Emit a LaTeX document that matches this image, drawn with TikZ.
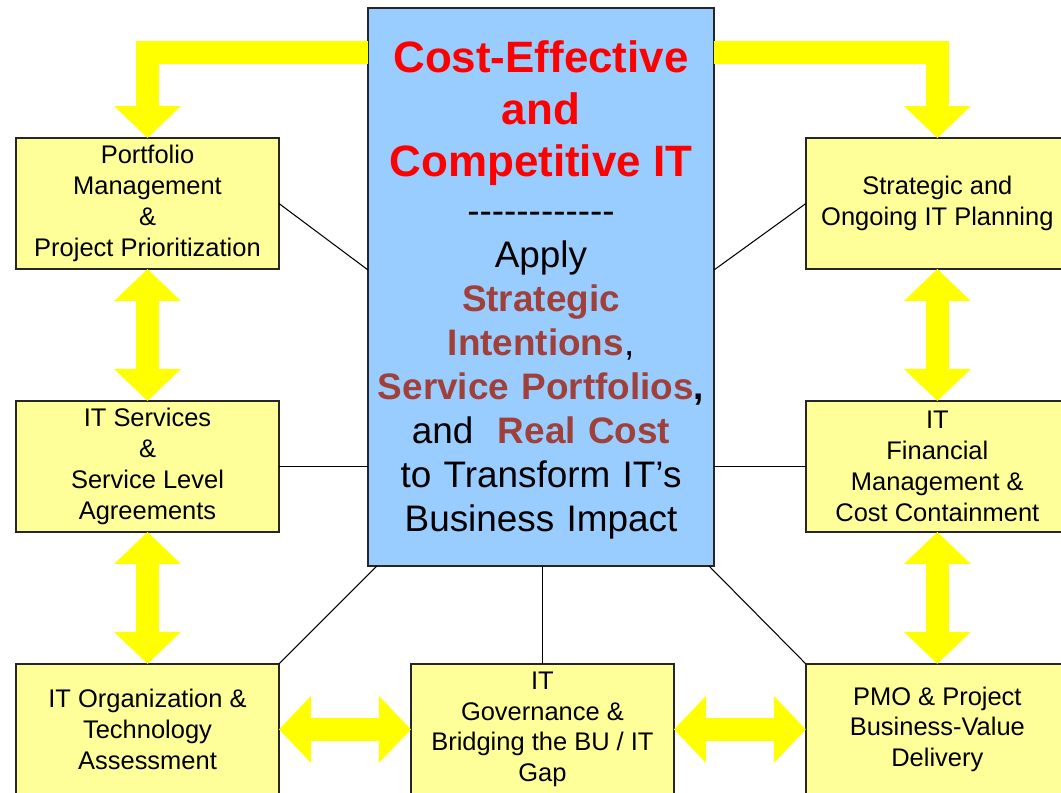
\documentclass[tikz,border=0pt]{standalone}
\usepackage{fontspec}
\setmainfont{Liberation Sans}
\usetikzlibrary{positioning,arrows.meta}

\definecolor{boxyellow}{HTML}{FFFF99}
\definecolor{arrowyellow}{HTML}{FFFF00}
\definecolor{skyblue}{HTML}{99CCFF}
\definecolor{brick}{RGB}{160,64,58}

\tikzset{
  topic/.style={draw=black!85, line width=0.8pt, fill=boxyellow, outer sep=0pt,
    minimum width=5.26cm, minimum height=2.62cm, align=center,
    font=\fontsize{14.5}{17.5}\selectfont},
  fat/.style={arrowyellow, line width=0.46cm,
    {Triangle[width=1.3cm,length=0.64cm]}-{Triangle[width=1.3cm,length=0.64cm]}},
  feed/.style={arrowyellow, line width=0.46cm, -{Triangle[width=1.3cm,length=0.64cm]}}
}

\begin{document}
\begin{tikzpicture}[x=0.02cm, y=-0.02cm, node distance=2.64cm]

\useasboundingbox (0,0) rectangle (1061,792);
\clip (0,0) rectangle (1061,792);

% the hub and its text
\node (0) [draw=black!85, line width=0.8pt, fill=skyblue, outer sep=0pt,
  minimum width=6.92cm, minimum height=11.16cm] at (541,287) {};
\node [text width=6.92cm, inner sep=0pt, align=center,
  font=\fontsize{21}{25}\selectfont] at (541,290)
{{\fontsize{25}{29.5}\selectfont\bfseries\color{red}Cost-Effective\\ and\\ Competitive IT\par}
 \vspace{2pt}-{}-{}-{}-{}-{}-{}-{}-{}-{}-{}-{}-\\
 Apply\\
 \textbf{\color{brick}Strategic}\\
 \textbf{\color{brick}Intentions},\\
 \textbf{\color{brick}Service Portfolios}\textbf{,}\\
 and\ \ \textbf{\color{brick}Real Cost}\\
 to Transform IT’s\\
 Business Impact};

\node (1) [topic] at (147.5,203.5) {Portfolio\\ Management\\ \&\\ Project Prioritization};
\node (2) [topic, below=of 1] {IT Services\\ \&\\ Service Level\\ Agreements};
\node (3) [topic, below=of 2] {IT Organization \&\\ Technology\\ Assessment};
\node (4) [topic, right=of 3] {IT\\ Governance \&\\ Bridging the BU / IT\\ Gap};
\node (5) [topic, right=of 4] {PMO \& Project\\ Business-Value\\ Delivery};
\node (6) [topic, above=of 5] {IT\\ Financial\\ Management \&\\ Cost Containment};
\node (7) [topic, above=of 6] {Strategic and\\ Ongoing IT Planning};

% thin spokes to the hub
\path[line width=0.6pt]
(1.east) edge ([yshift=0.34cm]0.west)
(2.east) edge (2.east -| 0.west)
(3.north east) edge ([xshift=0.18cm]0.south west)
(4.north) edge (4.north |- 0.south)
(5.north west) edge ([xshift=-0.1cm]0.south east)
(6.west) edge (6.west -| 0.east)
(7.west) edge ([yshift=0.34cm]0.east);

% yellow ring of double arrows
\path[fat]
(1) edge (2)
(2) edge (3)
(3) edge (4)
(4) edge (5)
(5) edge (6)
(6) edge (7);

\coordinate (t) at (541,52);
\draw[feed] (t -| 0.west) -| (1);
\draw[feed] (t -| 0.east) -| (7);

\end{tikzpicture}
\end{document}
